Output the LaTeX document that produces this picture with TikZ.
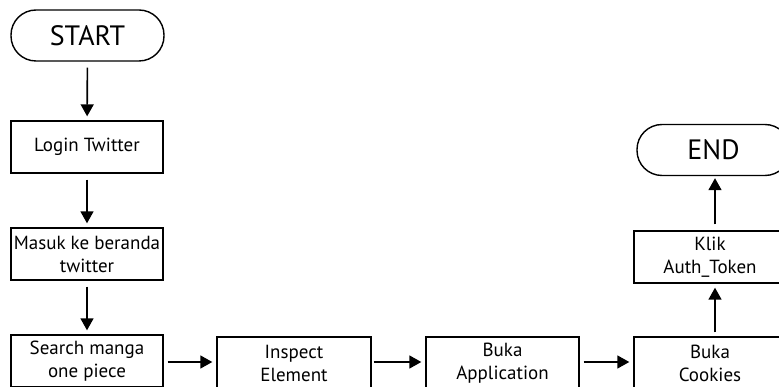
\documentclass[tikz,border=0pt]{standalone}
\usepackage{fontspec}
\setmainfont{PT Sans}
\usetikzlibrary{arrows.meta}
\begin{document}
\begin{tikzpicture}[x=1pt,y=-1pt,
  box/.style={draw,line width=1.4pt,minimum width=152pt,minimum height=52pt,inner sep=0pt,align=center,font=\fontsize{19}{23}\selectfont},
  term/.style={draw,line width=1.4pt,minimum width=153pt,minimum height=51pt,rounded corners=25pt,inner sep=0pt,font=\fontsize{28}{30}\selectfont},
  arr/.style={line width=1.6pt,-{Triangle[length=12pt,width=13pt]},shorten <=6pt,shorten >=4pt}]
\useasboundingbox (0,0) rectangle (779,387);
\node[term] (start) at (87.5,35.5) {START};
\node[box] (login) at (87,147) {Login Twitter};
\node[box] (masuk) at (87,254) {Masuk ke beranda\\twitter};
\node[box] (search) at (87,361) {Search manga\\one piece};
\node[box,minimum width=154pt] (inspect) at (294,363) {Inspect\\Element};
\node[box,minimum width=153pt] (app) at (502.5,363) {Buka\\Application};
\node[box] (cookies) at (710,363) {Buka\\Cookies};
\node[box] (klik) at (710,257) {Klik\\Auth\_Token};
\node[term] (end) at (713.5,150) {END};
\draw[arr] (start) -- (login);
\draw[arr] (login) -- (masuk);
\draw[arr] (masuk) -- (search);
\draw[arr,shorten <=4pt] (search.east |- 0,362) -- (inspect.west |- 0,362);
\draw[arr,shorten <=2pt] (inspect.east |- 0,362) -- (app.west |- 0,362);
\draw[arr,shorten <=4pt] (app.east |- 0,362) -- (cookies.west |- 0,362);
\draw[arr,shorten <=4pt] ([xshift=5pt]cookies.north) -- ([xshift=5pt]klik.south);
\draw[arr,shorten <=6pt,shorten >=2pt] ([xshift=5pt]klik.north) -- ([xshift=5pt]klik.north |- end.south);
\end{tikzpicture}
\end{document}
